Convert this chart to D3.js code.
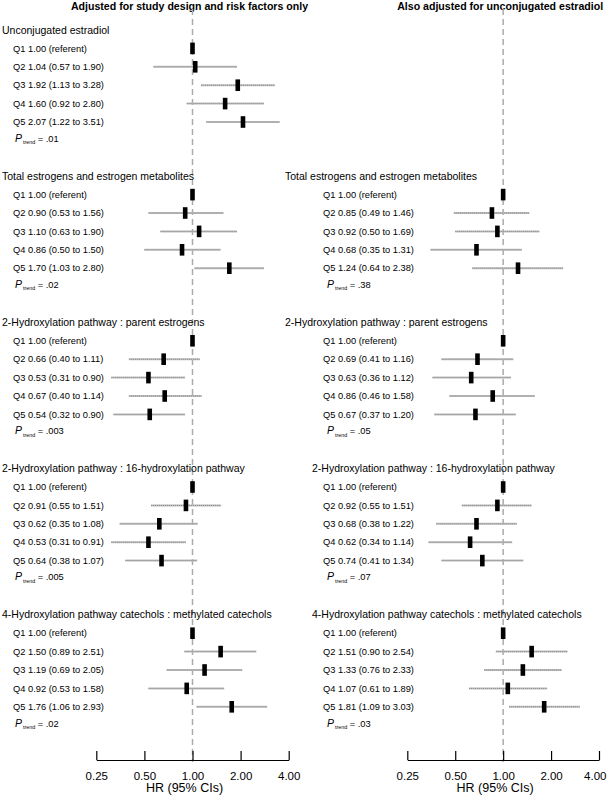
<!DOCTYPE html>
<html>
<head>
<meta charset="utf-8">
<script src="https://cdn.jsdelivr.net/npm/d3@7"></script>
<style>
  body { margin: 0; background: #fff; }
  svg { font-family: "Liberation Sans", Arial, sans-serif; }
</style>
</head>
<body>
<svg id="forest" width="608" height="797"></svg>
<script>
const quintiles = ["Q1", "Q2", "Q3", "Q4", "Q5"];
const sectionTitles = [
  "Unconjugated estradiol",
  "Total estrogens and estrogen metabolites",
  "2-Hydroxylation pathway : parent estrogens",
  "2-Hydroxylation pathway : 16-hydroxylation pathway",
  "4-Hydroxylation pathway catechols : methylated catechols"
];
const panelTitles = [
  "Adjusted for study design and risk factors only",
  "Also adjusted for unconjugated estradiol"
];
const tickValues = [0.25, 0.5, 1, 2, 4];

// left panel: study design + risk factors
const leftHR = [
  [1, 1.04, 1.92, 1.60, 2.07],
  [1, 0.90, 1.10, 0.86, 1.70],
  [1, 0.66, 0.53, 0.67, 0.54],
  [1, 0.91, 0.62, 0.53, 0.64],
  [1, 1.50, 1.19, 0.92, 1.76]
];
const leftLo = [
  [1, 0.57, 1.13, 0.92, 1.22],
  [1, 0.53, 0.63, 0.50, 1.03],
  [1, 0.40, 0.31, 0.40, 0.32],
  [1, 0.55, 0.35, 0.31, 0.38],
  [1, 0.89, 0.69, 0.53, 1.06]
];
const leftHi = [
  [1, 1.90, 3.28, 2.80, 3.51],
  [1, 1.56, 1.90, 1.50, 2.80],
  [1, 1.11, 0.90, 1.14, 0.90],
  [1, 1.51, 1.08, 0.91, 1.07],
  [1, 2.51, 2.05, 1.58, 2.93]
];
const leftP = [".01", ".02", ".003", ".005", ".02"];

// right panel: also adjusted for unconjugated estradiol (no first section)
const rightHR = [
  null,
  [1, 0.85, 0.92, 0.68, 1.24],
  [1, 0.69, 0.63, 0.86, 0.67],
  [1, 0.92, 0.68, 0.62, 0.74],
  [1, 1.51, 1.33, 1.07, 1.81]
];
const rightLo = [
  null,
  [1, 0.49, 0.50, 0.35, 0.64],
  [1, 0.41, 0.36, 0.46, 0.37],
  [1, 0.55, 0.38, 0.34, 0.41],
  [1, 0.90, 0.76, 0.61, 1.09]
];
const rightHi = [
  null,
  [1, 1.46, 1.69, 1.31, 2.38],
  [1, 1.16, 1.12, 1.58, 1.20],
  [1, 1.51, 1.22, 1.14, 1.34],
  [1, 2.54, 2.33, 1.89, 3.03]
];
const rightP = [null, ".38", ".05", ".07", ".03"];

const svg = d3.select("#forest");
const W = +svg.attr("width");
const fmt = d3.format(".2f");
const axisY = 760;

const panels = [
  { hr: leftHR, lo: leftLo, hi: leftHi, p: leftP, range: [96.3, 288.7],
    titleX: [2, 2, 2, 2, 2], labelX: 13, pX: 15, title: panelTitles[0] },
  { hr: rightHR, lo: rightLo, hi: rightHi, p: rightP, range: [407.3, 599],
    titleX: [0, 285, 285, 312, 312], labelX: 323, pX: 327, title: panelTitles[1] }
];

const sectionY = i => 30 + i * 146.2;
const rowY = (i, j) => sectionY(i) + 18.4 * (j + 1);

panels.forEach(panel => {
  const x = d3.scaleLog().base(2).domain([0.25, 4]).range(panel.range);
  const g = svg.append("g");

  // header
  g.append("text")
    .attr("x", x(1) - 3)
    .attr("y", 10)
    .attr("text-anchor", "middle")
    .attr("font-weight", "bold")
    .attr("font-size", 10.6)
    .text(panel.title);

  // reference line at HR = 1
  g.append("line")
    .attr("x1", x(1)).attr("x2", x(1))
    .attr("y1", 9).attr("y2", axisY + 2)
    .attr("stroke", "#aaa")
    .attr("stroke-width", 1.5)
    .attr("stroke-dasharray", "6,4");

  panel.hr.forEach((hrs, i) => {
    if (!hrs) return;
    const sec = g.append("g");

    sec.append("text")
      .attr("x", panel.titleX[i])
      .attr("y", sectionY(i))
      .attr("dy", "0.35em")
      .attr("font-size", 10.5)
      .text(sectionTitles[i]);

    const rows = hrs.map((hr, j) => ({
      q: quintiles[j], hr: hr, lo: panel.lo[i][j], hi: panel.hi[i][j], y: rowY(i, j)
    }));

    sec.selectAll("text.row")
      .data(rows)
      .enter()
      .append("text")
      .attr("class", "row")
      .attr("x", panel.labelX)
      .attr("y", d => d.y)
      .attr("dy", "0.35em")
      .attr("font-size", 9.3)
      .text((d, j) => j === 0
        ? `${d.q} ${fmt(d.hr)} (referent)`
        : `${d.q} ${fmt(d.hr)} (${fmt(d.lo)} to ${fmt(d.hi)})`);

    const ci = rows.filter((d, j) => j > 0);
    sec.selectAll("line.ci")
      .data(ci)
      .enter()
      .append("line")
      .attr("class", "ci")
      .attr("x1", d => x(d.lo)).attr("x2", d => x(d.hi))
      .attr("y1", d => d.y).attr("y2", d => d.y)
      .attr("stroke", "#bdbdbd")
      .attr("stroke-width", 2);
    sec.selectAll("line.cidot")
      .data(ci)
      .enter()
      .append("line")
      .attr("class", "cidot")
      .attr("x1", d => x(d.lo)).attr("x2", d => x(d.hi))
      .attr("y1", d => d.y).attr("y2", d => d.y)
      .attr("stroke", "#8a8a8a")
      .attr("stroke-width", 1)
      .attr("stroke-dasharray", "1,1");

    sec.selectAll("rect")
      .data(rows)
      .enter()
      .append("rect")
      .attr("x", d => x(d.hr) - 2.3)
      .attr("y", d => d.y - 5.8)
      .attr("width", 4.6)
      .attr("height", 11.6)
      .attr("fill", "#000");

    const pt = sec.append("text")
      .attr("x", panel.pX)
      .attr("y", sectionY(i) + 108.5)
      .attr("dy", "0.35em")
      .attr("font-size", 9.3);
    pt.append("tspan").attr("font-style", "italic").attr("font-size", 10.5).text("P");
    pt.append("tspan").attr("font-size", 5.3).attr("dy", 2.5).attr("dx", 1).text("trend");
    pt.append("tspan").attr("dy", -2.5).text(" = " + panel.p[i]);
  });

  // axis
  const axis = d3.axisBottom(x)
    .tickValues(tickValues)
    .tickFormat(fmt)
    .tickSizeInner(-9)
    .tickSizeOuter(0)
    .tickPadding(12);
  const ax = g.append("g")
    .attr("transform", `translate(0,${axisY})`)
    .call(axis);
  ax.select(".domain").attr("stroke", "#000").attr("stroke-width", 1.2);
  ax.selectAll(".tick line").attr("stroke", "#000").attr("stroke-width", 1.2);
  ax.selectAll(".tick text")
    .attr("font-family", "\"Liberation Sans\", Arial, sans-serif")
    .attr("font-size", 11.5)
    .attr("fill", "#000")
    .each(function (d) {
      // keep the last label inside the page
      const half = this.getComputedTextLength() / 2;
      const over = x(d) + half - (W - 2);
      if (over > 0) d3.select(this).attr("x", -over);
    });

  g.append("text")
    .attr("x", x(1) - 8)
    .attr("y", 792)
    .attr("text-anchor", "middle")
    .attr("font-size", 12.5)
    .text("HR (95% CIs)");
});
</script>
</body>
</html>
